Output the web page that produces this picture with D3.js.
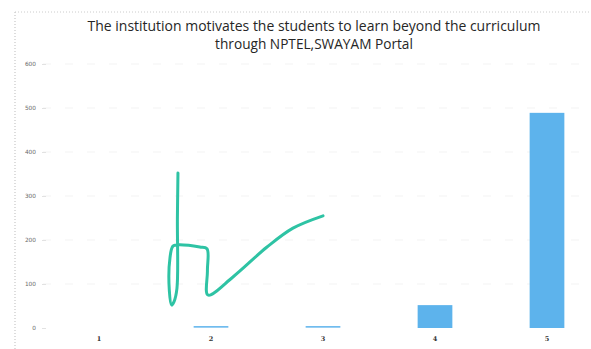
<!DOCTYPE html>
<html>
<head>
<meta charset="utf-8">
<script src="https://cdn.jsdelivr.net/npm/d3@7"></script>
<style>
  html, body { margin: 0; padding: 0; background: #fff; }
  svg { display: block; }
</style>
</head>
<body>
<svg id="chart" width="591" height="349"></svg>
<script>
// Survey responses on a 1–5 scale
const categories = ["1", "2", "3", "4", "5"];
const responses = [0, 2, 2, 52, 489];
const yTicks = [0, 100, 200, 300, 400, 500, 600];
const titleLines = [
  "The institution motivates the students to learn beyond the curriculum",
  "through NPTEL,SWAYAM Portal"
];
// Hand-drawn pen stroke over the plot, in (category position, value) units
const penX = [1.705, 1.700, 1.696, 1.670, 1.648, 1.628, 1.634, 1.660, 1.700, 1.800, 1.900, 1.964, 1.968, 1.973, 2.196, 2.500, 2.732, 3.000];
const penY = [352, 250, 90, 60, 52, 85, 160, 186, 189, 188, 184, 180, 130, 75, 116, 184, 227, 255];

const svg = d3.select("#chart");
const W = 591, H = 349;

const x = d3.scaleBand().domain(categories).range([43, 603]).paddingInner(0.69).paddingOuter(0.345);
const y = d3.scaleLinear().domain([0, 600]).range([328, 64]);

// Chart area frame (dotted, left and top)
svg.append("line").attr("x1", 15).attr("x2", 15).attr("y1", 12).attr("y2", H)
  .attr("stroke", "#bbb").attr("stroke-width", 1).attr("stroke-dasharray", "1,2");
svg.append("line").attr("x1", 15).attr("x2", W).attr("y1", 12).attr("y2", 12)
  .attr("stroke", "#ccc").attr("stroke-width", 1).attr("stroke-dasharray", "1,2");

// Title
const title = svg.append("g");
titleLines.forEach((t, i) => {
  title.append("text")
    .attr("x", 314).attr("y", 30.5 + i * 18.7)
    .attr("text-anchor", "middle")
    .attr("font-family", "'Open Sans', Lato, sans-serif")
    .attr("font-size", 14)
    .attr("fill", "#262626")
    .text(t);
});

// Gridlines
svg.append("g").selectAll("line").data(yTicks.slice(1)).join("line")
  .attr("x1", 43).attr("x2", W)
  .attr("y1", d => y(d)).attr("y2", d => y(d))
  .attr("stroke", "#f3f3f3").attr("stroke-width", 1).attr("stroke-dasharray", "8,14");

// Y axis
const yAxis = d3.axisLeft(y).tickValues(yTicks).tickSize(4).tickPadding(6);
const gy = svg.append("g").attr("transform", "translate(46,0)").call(yAxis);
gy.select(".domain").remove();
gy.selectAll(".tick line").attr("stroke", "#e2e2e2");
gy.selectAll(".tick text").attr("font-family", "'DejaVu Sans', sans-serif")
  .attr("font-size", 5.8).attr("fill", "#6a6a6a");

// Bars
svg.append("g").selectAll("rect").data(responses).join("rect")
  .attr("x", (d, i) => x(categories[i]))
  .attr("width", x.bandwidth())
  .attr("y", d => y(d) - (d > 0 && d < 5 ? 1 : 0))
  .attr("height", d => d > 0 ? Math.max(y(0) - y(d), 1.5) : 0)
  .attr("fill", "#5db3ec");

// X axis labels
const xAxis = d3.axisBottom(x).tickSize(0).tickPadding(8);
const gx = svg.append("g").attr("transform", `translate(0,${y(0)})`).call(xAxis);
gx.select(".domain").remove();
gx.selectAll(".tick text").attr("font-family", "'DejaVu Serif', serif")
  .attr("font-size", 6.5).attr("font-weight", "bold").attr("fill", "#333");

// Pen stroke
const xPos = v => {
  const step = x.step();
  const c0 = x(categories[0]) + x.bandwidth() / 2;
  return c0 + (v - 1) * step;
};
const pen = d3.line().x(d => xPos(d[0])).y(d => y(d[1])).curve(d3.curveCatmullRom.alpha(0.5));
svg.append("path")
  .attr("d", pen(d3.zip(penX, penY)))
  .attr("fill", "none").attr("stroke", "#2ec3a4")
  .attr("stroke-width", 3).attr("stroke-linecap", "round").attr("stroke-linejoin", "round");

// Fit the title lines to their widths
const widths = [453, 198];
title.selectAll("text").each(function(d, i) {
  const len = this.getComputedTextLength();
  const fs = 14 * widths[i] / len;
  d3.select(this).attr("font-size", fs.toFixed(2));
});
</script>
</body>
</html>
